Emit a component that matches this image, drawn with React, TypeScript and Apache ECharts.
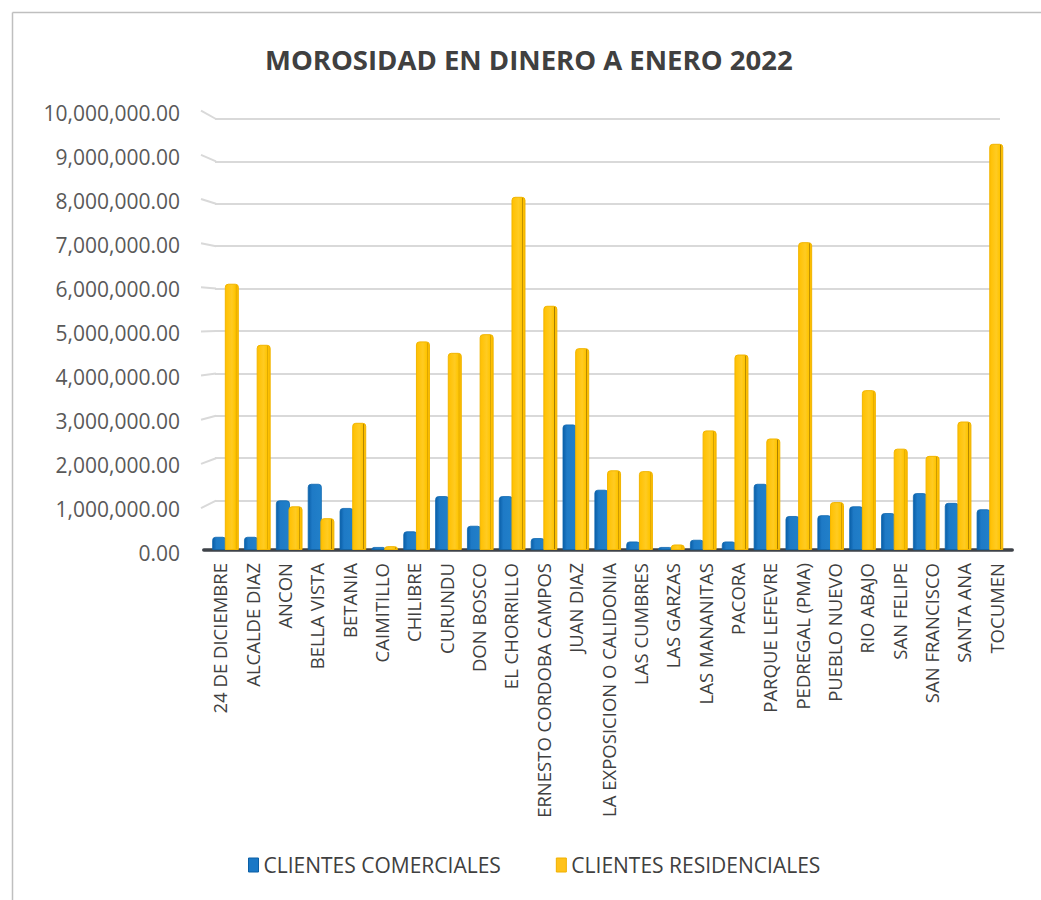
import React, { useEffect, useRef } from "react";
import * as echarts from "echarts";

const categories = [
  "24 DE DICIEMBRE", "ALCALDE DIAZ", "ANCON", "BELLA VISTA", "BETANIA", "CAIMITILLO",
  "CHILIBRE", "CURUNDU", "DON BOSCO", "EL CHORRILLO", "ERNESTO CORDOBA CAMPOS", "JUAN DIAZ",
  "LA EXPOSICION O CALIDONIA", "LAS CUMBRES", "LAS GARZAS", "LAS MANANITAS", "PACORA",
  "PARQUE LEFEVRE", "PEDREGAL (PMA)", "PUEBLO NUEVO", "RIO ABAJO", "SAN FELIPE",
  "SAN FRANCISCO", "SANTA ANA", "TOCUMEN",
];

const comerciales = [
  310000, 310000, 1170000, 1560000, 990000, 70000, 440000, 1270000, 570000, 1270000,
  280000, 2960000, 1420000, 200000, 70000, 240000, 200000, 1560000, 800000, 820000,
  1030000, 870000, 1340000, 1110000, 960000,
];

const residenciales = [
  6280000, 4840000, 1030000, 750000, 3000000, 90000, 4920000, 4650000, 5090000, 8330000,
  5760000, 4760000, 1880000, 1860000, 130000, 2820000, 4610000, 2630000, 7260000, 1130000,
  3770000, 2390000, 2220000, 3030000, 9580000,
];

const yTicks = [0, 1000000, 2000000, 3000000, 4000000, 5000000, 6000000, 7000000, 8000000, 9000000, 10000000];

const seriesNames = ["CLIENTES COMERCIALES", "CLIENTES RESIDENCIALES"];

const fmt = (v: number) =>
  v.toLocaleString("en-US", { minimumFractionDigits: 2, maximumFractionDigits: 2 });

const FONT = "Open Sans";

export default function App() {
  const ref = useRef<HTMLDivElement>(null);

  useEffect(() => {
    if (!ref.current) return;
    const chart = echarts.init(ref.current, undefined, { renderer: "svg" });

    const blueFill = new echarts.graphic.LinearGradient(0, 0, 1, 0, [
      { offset: 0, color: "#0A5FA8" },
      { offset: 0.3, color: "#1E7AC6" },
      { offset: 1, color: "#2180C9" },
    ]);
    const yellowFill = new echarts.graphic.LinearGradient(0, 0, 1, 0, [
      { offset: 0, color: "#FFC000" },
      { offset: 0.5, color: "#FFCB22" },
      { offset: 0.78, color: "#FFC400" },
      { offset: 0.82, color: "#A67C00" },
      { offset: 0.87, color: "#FFC000" },
      { offset: 1, color: "#F5B800" },
    ]);

    const splitColors = yTicks.map((_, i) => (i === 0 ? "rgba(0,0,0,0)" : "#D9D9D9"));

    chart.setOption({
      animation: false,
      backgroundColor: "#ffffff",
      title: {
        text: "MOROSIDAD EN DINERO A ENERO 2022",
        left: 260,
        top: 40,
        textStyle: { fontFamily: FONT, fontSize: 27.5, fontWeight: "bold", color: "#404040" },
      },
      legend: {
        left: 248,
        top: 854.5,
        padding: 0,
        itemWidth: 10,
        itemHeight: 14,
        itemGap: 55,
        icon: "rect",
        textStyle: { fontFamily: FONT, fontSize: 21, color: "#404040" },
        data: [
          { name: seriesNames[0], itemStyle: { color: "#1A78C6", borderColor: "#0B5FA5", borderWidth: 1 } },
          { name: seriesNames[1], itemStyle: { color: "#FFC21A", borderColor: "#F0B000", borderWidth: 1 } },
        ],
      },
      grid: [
        { left: 215, top: 119, width: 785, height: 424 },
        { left: 209.6, top: 126, width: 796.3, height: 424 },
        { left: 203.8, top: 120, width: 808.4, height: 430 },
        { left: 215, top: 113, width: 785, height: 439.5 },
      ],
      xAxis: [
        { gridIndex: 0, type: "category", data: categories, show: false },
        { gridIndex: 1, type: "category", data: categories, show: false },
        {
          gridIndex: 2,
          type: "category",
          data: categories,
          axisLine: { show: true, lineStyle: { color: "#3E4248", width: 3.5 } },
          axisTick: { show: false },
          axisLabel: {
            interval: 0,
            rotate: 90,
            margin: 13,
            fontFamily: FONT,
            fontSize: 18.5,
            color: "#404040",
          },
        },
        { gridIndex: 3, type: "category", data: categories, show: false },
      ],
      yAxis: [
        {
          gridIndex: 0,
          type: "value",
          min: 0,
          max: 10000000,
          interval: 1000000,
          axisLine: { show: false },
          axisTick: { show: false },
          axisLabel: { show: false },
          splitLine: { show: true, lineStyle: { color: splitColors, width: 2 } },
        },
        { gridIndex: 1, type: "value", min: 0, max: 10000000, show: false, splitLine: { show: false } },
        { gridIndex: 2, type: "value", min: 0, max: 1, show: false, splitLine: { show: false } },
        {
          gridIndex: 3,
          type: "value",
          min: 0,
          max: 10000000,
          interval: 1000000,
          axisLine: { show: false },
          axisTick: { show: false },
          splitLine: { show: false },
          axisLabel: {
            margin: 35,
            fontFamily: FONT,
            fontSize: 21,
            color: "#595959",
            formatter: (v: number) => fmt(v),
          },
        },
      ],
      series: [
        {
          name: seriesNames[0],
          type: "bar",
          xAxisIndex: 1,
          yAxisIndex: 1,
          data: comerciales,
          barWidth: 14,
          barGap: "-10%",
          itemStyle: { color: blueFill, borderRadius: [3, 3, 0, 0], borderColor: "#0E67B0", borderWidth: 0.8 },
        },
        {
          name: seriesNames[1],
          type: "bar",
          xAxisIndex: 1,
          yAxisIndex: 1,
          data: residenciales,
          barWidth: 14,
          barGap: "-10%",
          itemStyle: { color: yellowFill, borderRadius: [3, 3, 0, 0], borderColor: "#F2B500", borderWidth: 1 },
        },
      ],
    });

    // perspective stubs on the left of each gridline, and chart frame
    const graphics: any[] = [
      { type: "line", shape: { x1: 12.5, y1: 12.5, x2: 1041, y2: 12.5 }, style: { stroke: "#BFBFBF", lineWidth: 1.5 } },
      { type: "line", shape: { x1: 12.5, y1: 12.5, x2: 12.5, y2: 900 }, style: { stroke: "#BFBFBF", lineWidth: 1.5 } },
    ];
    yTicks.forEach((v) => {
      if (v === 0) return;
      const y = chart.convertToPixel({ yAxisIndex: 0 }, v) as number;
      const dy = 9.2 - 1.75 * (v / 1000000);
      graphics.push({
        type: "line",
        shape: { x1: 201, y1: y + dy, x2: 216, y2: y },
        style: { stroke: "#D9D9D9", lineWidth: 2 },
      });
    });
    chart.setOption({ graphic: graphics });

    return () => chart.dispose();
  }, []);

  return (
    <div
      ref={ref}
      style={{ position: "absolute", left: 0, top: 0, width: 1041, height: 900 }}
    />
  );
}
